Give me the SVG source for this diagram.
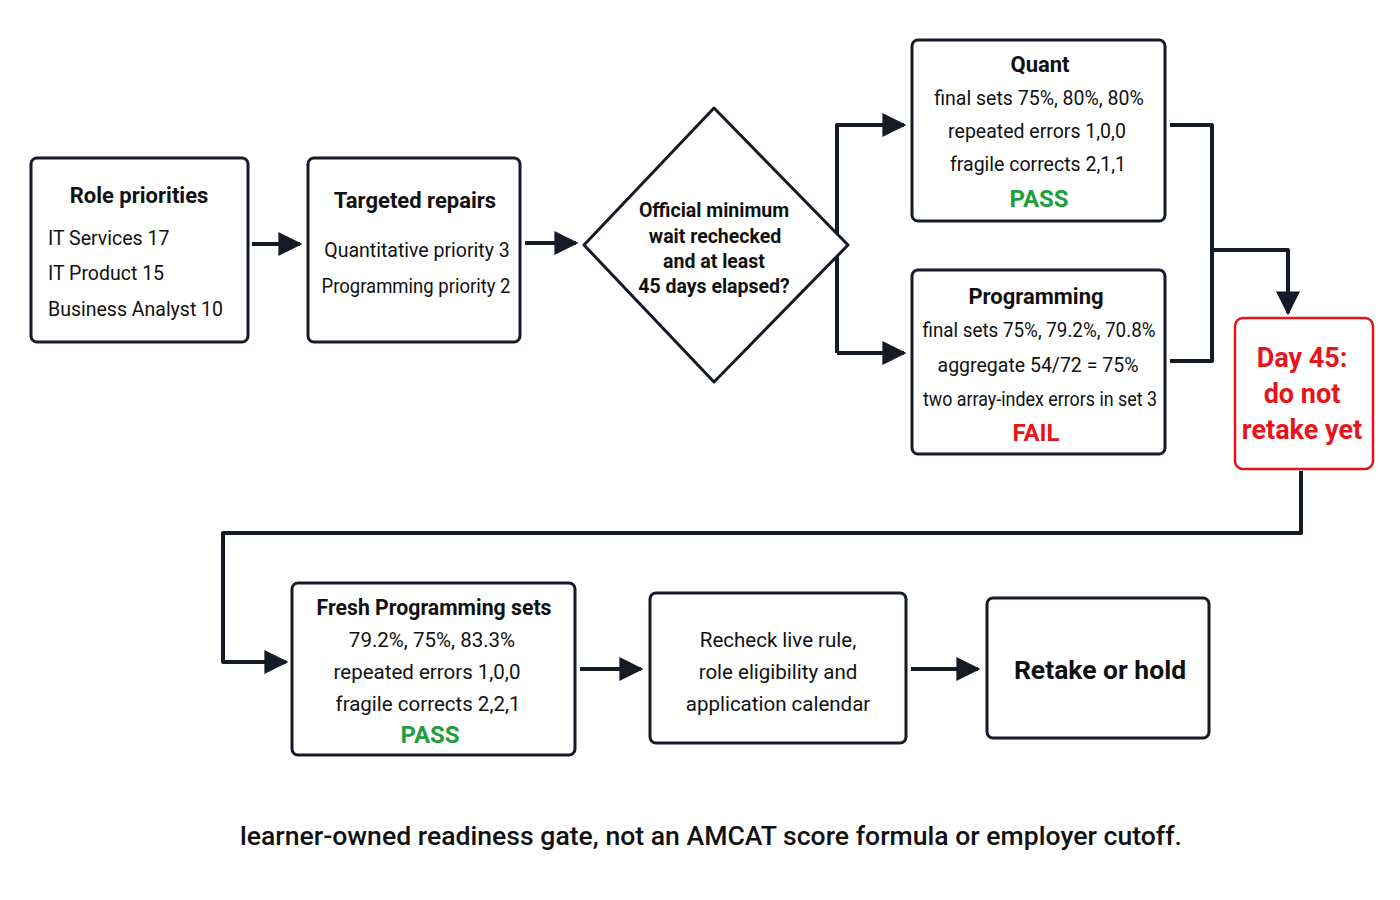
<svg xmlns="http://www.w3.org/2000/svg" width="1400" height="900" viewBox="0 0 1400 900">
<defs>
<marker id="ah" viewBox="0 0 10 10" refX="9" refY="5" markerWidth="6" markerHeight="6" markerUnits="strokeWidth" orient="auto">
<path d="M0,0 L10,5 L0,10 z" fill="#141a26"/>
</marker>
<style>
.box{fill:#fff;stroke:#141a26;stroke-width:3}
.red{fill:#fff;stroke:#e8141c;stroke-width:2.5}
.t{font-family:Roboto,"Liberation Sans",sans-serif;fill:#111;}
.h{font-size:22px;font-weight:bold;text-anchor:middle}
.b{font-size:19.5px;text-anchor:middle}
.b2{font-size:20.5px;text-anchor:middle}
.l{font-size:19.5px}
.pass{fill:#1e9e3c;font-size:24px;font-weight:bold;text-anchor:middle}
.fail{fill:#e8141c;font-size:24px;font-weight:bold;text-anchor:middle}
.rt{fill:#e8141c;font-size:27px;font-weight:bold;text-anchor:middle}
.d{font-size:19.5px;font-weight:bold;text-anchor:middle}
.c{fill:none;stroke:#141a26;stroke-width:4;stroke-linejoin:round}
</style>
</defs>
<rect width="1400" height="900" fill="#fff"/>
<g id="connectors">
<path class="c" d="M252,244 H300" marker-end="url(#ah)"/>
<path class="c" d="M525,243 H576" marker-end="url(#ah)"/>
<path class="c" d="M837,353 V125 H904" marker-end="url(#ah)"/>
<path class="c" d="M837,353 H904" marker-end="url(#ah)"/>
<path class="c" d="M1170,125 H1212 V361 H1170"/>
<path class="c" d="M1212,250 H1288 V313" marker-end="url(#ah)"/>
<path class="c" d="M1301,471 V533 H223 V662 H286" marker-end="url(#ah)"/>
<path class="c" d="M580,669 H641" marker-end="url(#ah)"/>
<path class="c" d="M911,669 H978" marker-end="url(#ah)"/>
</g>
<g id="role">
<rect class="box" x="31" y="158" width="217" height="184" rx="6"/>
<text class="t h" x="139" y="203">Role priorities</text>
<text class="t l" x="48" y="245">IT Services 17</text>
<text class="t l" x="48" y="280">IT Product 15</text>
<text class="t l" x="48" y="316">Business Analyst 10</text>
</g>
<g id="repairs">
<rect class="box" x="308" y="158" width="212" height="184" rx="6"/>
<text class="t h" x="415" y="208">Targeted repairs</text>
<text class="t b" x="417" y="257">Quantitative priority 3</text>
<text class="t b" x="416" y="293" textLength="189" lengthAdjust="spacingAndGlyphs">Programming priority 2</text>
</g>
<g id="decision">
<polygon points="714,108 848,245 714,382 584,245" fill="#fff" stroke="#141a26" stroke-width="3" stroke-linejoin="round"/>
<text class="t d" x="714" y="217">Official minimum</text>
<text class="t d" x="715" y="243">wait rechecked</text>
<text class="t d" x="714" y="268">and at least</text>
<text class="t d" x="714" y="293">45 days elapsed?</text>
</g>
<g id="quant">
<rect class="box" x="912" y="40" width="253" height="181" rx="6"/>
<text class="t h" x="1040" y="72">Quant</text>
<text class="t b" x="1039" y="105">final sets 75%, 80%, 80%</text>
<text class="t b" x="1037" y="138">repeated errors 1,0,0</text>
<text class="t b" x="1038" y="171">fragile corrects 2,1,1</text>
<text class="t pass" x="1039" y="207">PASS</text>
</g>
<g id="programming">
<rect class="box" x="912" y="270" width="253" height="184" rx="6"/>
<text class="t h" x="1036" y="304">Programming</text>
<text class="t b" x="1039" y="337" textLength="233" lengthAdjust="spacingAndGlyphs">final sets 75%, 79.2%, 70.8%</text>
<text class="t b" x="1038" y="372">aggregate 54/72 = 75%</text>
<text class="t b" x="1040" y="406" textLength="234" lengthAdjust="spacingAndGlyphs">two array-index errors in set 3</text>
<text class="t fail" x="1036" y="441">FAIL</text>
</g>
<g id="day45">
<rect class="red" x="1235" y="318" width="138" height="151" rx="8"/>
<text class="t rt" x="1302" y="367">Day 45:</text>
<text class="t rt" x="1302" y="403">do not</text>
<text class="t rt" x="1302" y="439">retake yet</text>
</g>
<g id="fresh">
<rect class="box" x="292" y="583" width="283" height="172" rx="6"/>
<text class="t h" x="434" y="615" textLength="235" lengthAdjust="spacingAndGlyphs">Fresh Programming sets</text>
<text class="t b2" x="432" y="647">79.2%, 75%, 83.3%</text>
<text class="t b2" x="427" y="679">repeated errors 1,0,0</text>
<text class="t b2" x="428" y="711">fragile corrects 2,2,1</text>
<text class="t pass" x="430" y="743">PASS</text>
</g>
<g id="recheck">
<rect class="box" x="650" y="593" width="256" height="150" rx="6"/>
<text class="t b2" x="778" y="647" font-size="21">Recheck live rule,</text>
<text class="t b2" x="778" y="679" font-size="21">role eligibility and</text>
<text class="t b2" x="778" y="711" font-size="21">application calendar</text>
</g>
<g id="retake">
<rect class="box" x="987" y="598" width="222" height="140" rx="6"/>
<text class="t" x="1100" y="679" font-size="26.5" font-weight="bold" text-anchor="middle">Retake or hold</text>
</g>
<text class="t" x="711" y="845" font-size="25" font-weight="500" text-anchor="middle" textLength="942" lengthAdjust="spacingAndGlyphs">learner-owned readiness gate, not an AMCAT score formula or employer cutoff.</text>
</svg>
